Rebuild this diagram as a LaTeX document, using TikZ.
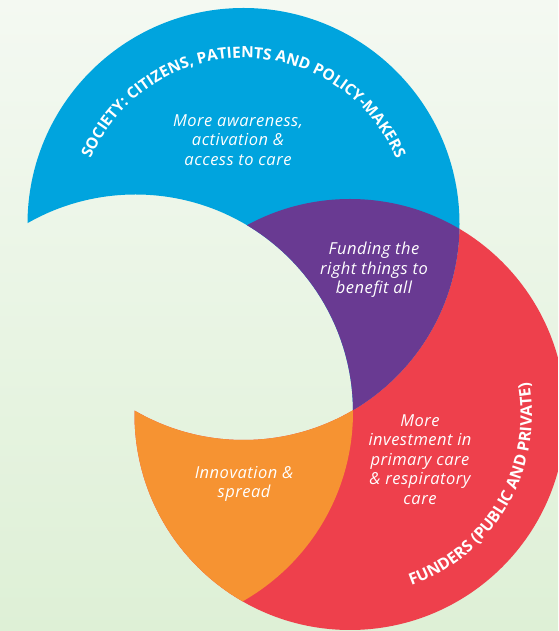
\documentclass[tikz,border=0pt]{standalone}
\usepackage{fontspec}
\setmainfont{Open Sans}
\newfontfamily\bodyfont{Open Sans}[LetterSpace=3.0]
\usetikzlibrary{decorations.text}
\definecolor{socblue}{RGB}{0,164,222}
\definecolor{fundpurple}{RGB}{105,58,146}
\definecolor{fundred}{RGB}{238,64,76}
\definecolor{innorange}{RGB}{246,147,50}
\definecolor{bgtop}{RGB}{244,249,242}
\definecolor{bgbottom}{RGB}{222,240,214}
% clip to everything outside a circle
\newcommand{\holeclip}[2]{\clip (0,0) -- (0,631) -- (558,631) -- (558,0) -- cycle (#1) circle (#2);}

\begin{document}
\begin{tikzpicture}[x=1pt,y=1pt,
  inner/.style={text=white, font=\bodyfont\itshape\fontsize{16.5}{19.5}\selectfont, align=center},
  ringtext/.style={decorate, decoration={text along path, text align=center, text={#1}}}]
\useasboundingbox (0,0) rectangle (558,631);
\shade[top color=bgtop, bottom color=bgbottom] (0,0) rectangle (558,631);
\coordinate (a) at (243.5,407);
\coordinate (c) at (135.5,219);
\coordinate (r) at (350,216.5);
% society (blue)
\begin{scope}
  \clip (a) circle (216);
  \holeclip{c}{217.5}
  \fill[socblue] (0,0) rectangle (558,631);
\end{scope}
% funders (red)
\begin{scope}
  \clip (r) circle (215.5);
  \holeclip{a}{216}
  \fill[fundred] (0,0) rectangle (558,631);
\end{scope}
% overlap of both (purple)
\begin{scope}
  \clip (a) circle (216);
  \clip (r) circle (215.5);
  \holeclip{c}{217.5}
  \fill[fundpurple] (0,0) rectangle (558,631);
\end{scope}
% innovation (orange)
\begin{scope}
  \clip (r) circle (215.5);
  \clip (c) circle (217.5);
  \holeclip{a}{216}
  \fill[innorange] (0,0) rectangle (558,631);
\end{scope}
% texts
\node[inner] (aware) at (238,491) {More awareness,\\activation \&\\access to care};
\node[inner] (funding) at (374,361) {Funding the\\right things to\\benefit all};
\node[inner] (invest) at (420,171.5) {More\\investment in\\primary care\\\& respiratory\\care};
\node[inner] (innov) at (244,147) {Innovation \&\\spread};
\path[ringtext={|\color{white}\bfseries\fontsize{15.5}{15.5}\selectfont|SOCIETY: CITIZENS{,} PATIENTS AND POLICY-MAKERS}]
  ([shift={(175:166)}]a) arc (175:5:166);
\path[ringtext={|\color{white}\bfseries\fontsize{16}{16}\selectfont|FUNDERS (PUBLIC AND PRIVATE)}]
  ([shift={(-110:182)}]r) arc (-110:50:182);
\end{tikzpicture}
\end{document}
